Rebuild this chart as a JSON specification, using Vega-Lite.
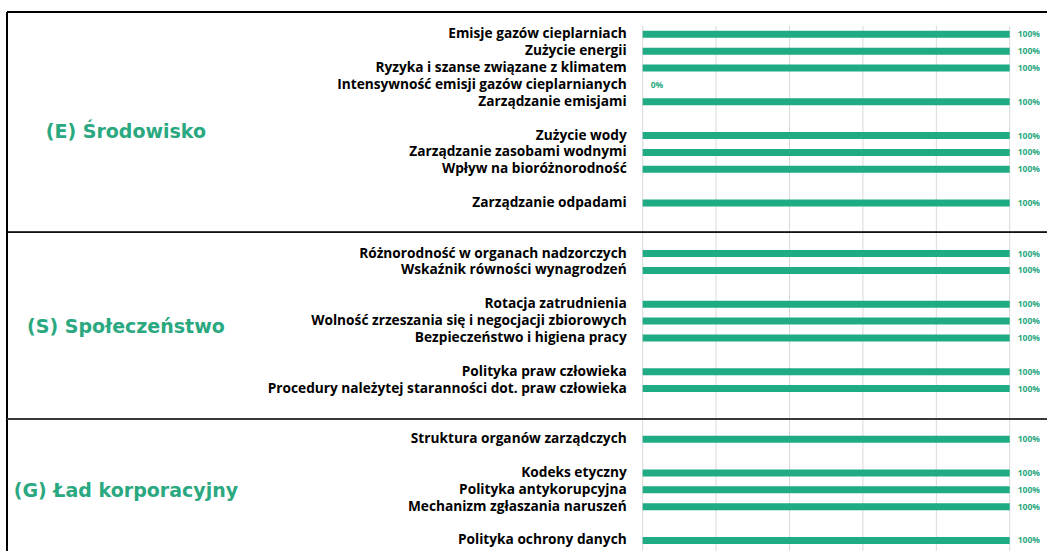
{
  "$schema": "https://vega.github.io/schema/vega-lite/v6.json",
  "width": 1040,
  "height": 539,
  "autosize": {"type": "none"},
  "padding": {"left": 7, "top": 12, "right": 0, "bottom": 0},
  "background": "white",
  "config": {"view": {"stroke": null}},
  "datasets": {
    "items": [
      {"row": 0, "label": "Emisje gazów cieplarniach", "value": 1},
      {"row": 1, "label": "Zużycie energii", "value": 1},
      {"row": 2, "label": "Ryzyka i szanse związane z klimatem", "value": 1},
      {"row": 3, "label": "Intensywność emisji gazów cieplarnianych", "value": 0},
      {"row": 4, "label": "Zarządzanie emisjami", "value": 1},
      {"row": 6, "label": "Zużycie wody", "value": 1},
      {"row": 7, "label": "Zarządzanie zasobami wodnymi", "value": 1},
      {"row": 8, "label": "Wpływ na bioróżnorodność", "value": 1},
      {"row": 10, "label": "Zarządzanie odpadami", "value": 1},
      {"row": 13, "label": "Różnorodność w organach nadzorczych", "value": 1},
      {"row": 14, "label": "Wskaźnik równości wynagrodzeń", "value": 1},
      {"row": 16, "label": "Rotacja zatrudnienia", "value": 1},
      {"row": 17, "label": "Wolność zrzeszania się i negocjacji zbiorowych", "value": 1},
      {"row": 18, "label": "Bezpieczeństwo i higiena pracy", "value": 1},
      {"row": 20, "label": "Polityka praw człowieka", "value": 1},
      {"row": 21, "label": "Procedury należytej staranności dot. praw człowieka", "value": 1},
      {"row": 24, "label": "Struktura organów zarządczych", "value": 1},
      {"row": 26, "label": "Kodeks etyczny", "value": 1},
      {"row": 27, "label": "Polityka antykorupcyjna", "value": 1},
      {"row": 28, "label": "Mechanizm zgłaszania naruszeń", "value": 1},
      {"row": 30, "label": "Polityka ochrony danych", "value": 1}
    ],
    "sections": [
      {"section": "(E) Środowisko", "row": 5.77},
      {"section": "(S) Społeczeństwo", "row": 17.33},
      {"section": "(G) Ład korporacyjny", "row": 27.05}
    ],
    "grid": [
      {"tick": 0}, {"tick": 0.2}, {"tick": 0.4}, {"tick": 0.6}, {"tick": 0.8}, {"tick": 1}
    ]
  },
  "layer": [
    {
      "data": {"name": "grid"},
      "mark": {"type": "rule", "color": "#d9d9d9", "strokeWidth": 1},
      "encoding": {
        "x": {"field": "tick", "type": "quantitative", "scale": {"domain": [-1.732, 1.1016], "nice": false, "zero": false}, "axis": null},
        "y": {"datum": -0.5, "type": "quantitative", "scale": {"domain": [-1.322, 30.628], "nice": false, "zero": false, "reverse": true}, "axis": null},
        "y2": {"datum": 30.628}
      }
    },
    {
      "data": {"name": "grid"},
      "mark": {"type": "rule", "color": "#000000", "strokeWidth": 1.3},
      "encoding": {
        "y": {"datum": -1.322, "type": "quantitative", "scale": {"domain": [-1.322, 30.628], "nice": false, "zero": false, "reverse": true}, "axis": null}
      }
    },
    {
      "data": {"name": "grid"},
      "mark": {"type": "rule", "color": "#000000", "strokeWidth": 1.3},
      "encoding": {
        "x": {"datum": -1.732, "type": "quantitative", "scale": {"domain": [-1.732, 1.1016], "nice": false, "zero": false}, "axis": null}
      }
    },
    {
      "data": {"name": "grid"},
      "mark": {"type": "rule", "color": "#111111", "strokeWidth": 1.4},
      "encoding": {
        "y": {"datum": 11.74, "type": "quantitative", "scale": {"domain": [-1.322, 30.628], "nice": false, "zero": false, "reverse": true}, "axis": null}
      }
    },
    {
      "data": {"name": "grid"},
      "mark": {"type": "rule", "color": "#3a3a3a", "strokeWidth": 1.8},
      "encoding": {
        "y": {"datum": 22.8, "type": "quantitative", "scale": {"domain": [-1.322, 30.628], "nice": false, "zero": false, "reverse": true}, "axis": null}
      }
    },
    {
      "data": {"name": "items"},
      "mark": {"type": "rule", "color": "#1fab84", "strokeWidth": 7, "strokeCap": "butt"},
      "encoding": {
        "x": {"field": "value", "type": "quantitative", "scale": {"domain": [-1.732, 1.1016], "nice": false, "zero": false}, "axis": null},
        "x2": {"datum": 0},
        "y": {"field": "row", "type": "quantitative", "scale": {"domain": [-1.322, 30.628], "nice": false, "zero": false, "reverse": true}, "axis": null}
      }
    },
    {
      "data": {"name": "items"},
      "mark": {"type": "text", "align": "left", "baseline": "middle", "dx": 8, "fontSize": 8.5, "fontWeight": "bold", "font": "Open Sans", "color": "#2aa87f"},
      "encoding": {
        "x": {"field": "value", "type": "quantitative", "scale": {"domain": [-1.732, 1.1016], "nice": false, "zero": false}, "axis": null},
        "y": {"field": "row", "type": "quantitative", "scale": {"domain": [-1.322, 30.628], "nice": false, "zero": false, "reverse": true}, "axis": null},
        "text": {"field": "value", "type": "quantitative", "format": ".0%"}
      }
    },
    {
      "data": {"name": "items"},
      "mark": {"type": "text", "align": "right", "baseline": "middle", "dx": -16, "fontSize": 13.7, "fontWeight": "bold", "font": "Open Sans", "color": "#000000"},
      "encoding": {
        "x": {"datum": 0, "type": "quantitative", "scale": {"domain": [-1.732, 1.1016], "nice": false, "zero": false}, "axis": null},
        "y": {"field": "row", "type": "quantitative", "scale": {"domain": [-1.322, 30.628], "nice": false, "zero": false, "reverse": true}, "axis": null},
        "text": {"field": "label", "type": "nominal"}
      }
    },
    {
      "data": {"name": "sections"},
      "mark": {"type": "text", "align": "center", "baseline": "middle", "fontSize": 19, "fontWeight": "bold", "font": "DejaVu Sans", "color": "#2aa87f"},
      "encoding": {
        "x": {"datum": -1.408, "type": "quantitative", "scale": {"domain": [-1.732, 1.1016], "nice": false, "zero": false}, "axis": null},
        "y": {"field": "row", "type": "quantitative", "scale": {"domain": [-1.322, 30.628], "nice": false, "zero": false, "reverse": true}, "axis": null},
        "text": {"field": "section", "type": "nominal"}
      }
    }
  ]
}
